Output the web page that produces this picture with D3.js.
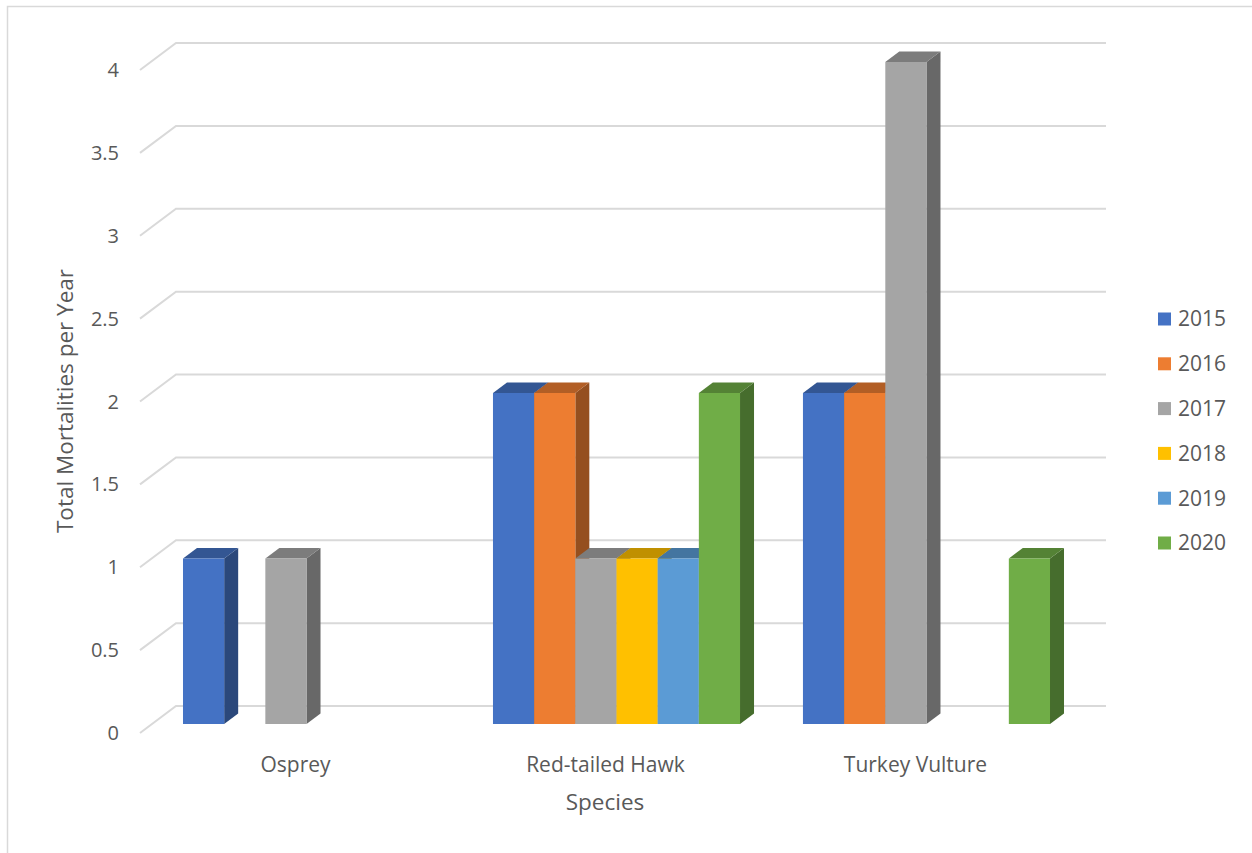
<!DOCTYPE html>
<html><head><meta charset="utf-8">
<script src="https://cdn.jsdelivr.net/npm/d3@7"></script>
<style>html,body{margin:0;padding:0;background:#fff;}svg{display:block;}</style>
</head><body>
<svg id="chart" width="1252" height="853"></svg>
<script>
const categories = ["Osprey", "Red-tailed Hawk", "Turkey Vulture"];
const years = ["2015", "2016", "2017", "2018", "2019", "2020"];
const v2015 = [1, 2, 2];
const v2016 = [0, 2, 2];
const v2017 = [1, 1, 4];
const v2018 = [0, 1, 0];
const v2019 = [0, 1, 0];
const v2020 = [0, 2, 1];
const seriesValues = [v2015, v2016, v2017, v2018, v2019, v2020];
const yTicks = [0, 0.5, 1, 1.5, 2, 2.5, 3, 3.5, 4];
const tickLabels = ["0", "0.5", "1", "1.5", "2", "2.5", "3", "3.5", "4"];
const colors = ["#4472C4", "#ED7D31", "#A5A5A5", "#FFC000", "#5B9BD5", "#70AD47"];

const svg = d3.select("#chart");
const FONT = "'Open Sans', sans-serif";
const TXT = "#595959";

// frame
svg.append("rect").attr("x", 7.5).attr("y", 6.5).attr("width", 1300).attr("height", 900)
  .attr("fill", "none").attr("stroke", "#d9d9d9").attr("stroke-width", 1.5);

// scales
const yBack = d3.scaleLinear().domain([0, 4]).range([706, 43]);
const yBar = d3.scaleLinear().domain([0, 4]).range([724, 62]);
const x = d3.scaleBand().domain(categories).range([151.5, 1081.5]).paddingInner(0.203).paddingOuter(0.1016);
const xs = d3.scaleBand().domain(years).range([0, x.bandwidth()]).padding(0);
const DX = 14, DY = -10.5;
const wallL = 176, wallR = 1106, diagDX = -36, diagDY = 27;

// gridlines (back wall + side wall diagonal)
const grid = svg.append("g");
yTicks.forEach(t => {
  const y = yBack(t);
  grid.append("path")
    .attr("d", `M${wallL + diagDX},${y + diagDY}L${wallL},${y}L${wallR},${y}`)
    .attr("fill", "none").attr("stroke", "#d9d9d9").attr("stroke-width", 2);
});

// tick labels
svg.append("g").selectAll("text").data(yTicks).join("text")
  .attr("x", 119).attr("y", d => yBack(d) + diagDY)
  .attr("dy", "0.35em").attr("text-anchor", "end")
  .attr("font-family", FONT).attr("font-size", 20).attr("fill", TXT)
  .text((d, i) => tickLabels[i]);

// bars
const bars = svg.append("g");
categories.forEach((c, ci) => {
  years.forEach((yr, si) => {
    const v = seriesValues[si][ci];
    if (!(v > 0)) return;
    const x0 = x(c) + xs(yr), x1 = x0 + xs.bandwidth();
    const yt = yBar(v), yb = yBar(0);
    const base = d3.color(colors[si]);
    const g = bars.append("g");
    g.append("path").attr("d", `M${x1},${yt}L${x1 + DX},${yt + DY}L${x1 + DX},${yb + DY}L${x1},${yb}Z`)
      .attr("fill", base.darker(1.3).formatHex());
    g.append("path").attr("d", `M${x0},${yt}L${x0 + DX},${yt + DY}L${x1 + DX},${yt + DY}L${x1},${yt}Z`)
      .attr("fill", base.darker(0.8).formatHex());
    g.append("rect").attr("x", x0).attr("y", yt).attr("width", x1 - x0).attr("height", yb - yt)
      .attr("fill", colors[si]);
  });
});

// category labels
svg.append("g").selectAll("text").data(categories).join("text")
  .attr("x", d => x(d) + x.bandwidth() / 2 - 11).attr("y", 765)
  .attr("dy", "0.35em").attr("text-anchor", "middle")
  .attr("font-family", FONT).attr("font-size", 21).attr("fill", TXT)
  .text(d => d);

// axis titles
svg.append("text").attr("x", 605).attr("y", 802).attr("dy", "0.35em")
  .attr("text-anchor", "middle").attr("font-family", FONT).attr("font-size", 22.5).attr("fill", TXT)
  .text("Species");
svg.append("text").attr("transform", "translate(65,401) rotate(-90)").attr("dy", "0.35em")
  .attr("text-anchor", "middle").attr("font-family", FONT).attr("font-size", 22.5).attr("fill", TXT)
  .text("Total Mortalities per Year");

// legend
const legendY = d3.scalePoint().domain(years).range([319, 543]);
const lg = svg.append("g").selectAll("g").data(years).join("g")
  .attr("transform", d => `translate(1158,${legendY(d)})`);
lg.append("rect").attr("x", 0).attr("y", -6.5).attr("width", 13).attr("height", 13)
  .attr("fill", (d, i) => colors[i]);
lg.append("text").attr("x", 20).attr("y", 0).attr("dy", "0.35em")
  .attr("font-family", FONT).attr("font-size", 21).attr("fill", TXT).text(d => d);
</script>
</body></html>
